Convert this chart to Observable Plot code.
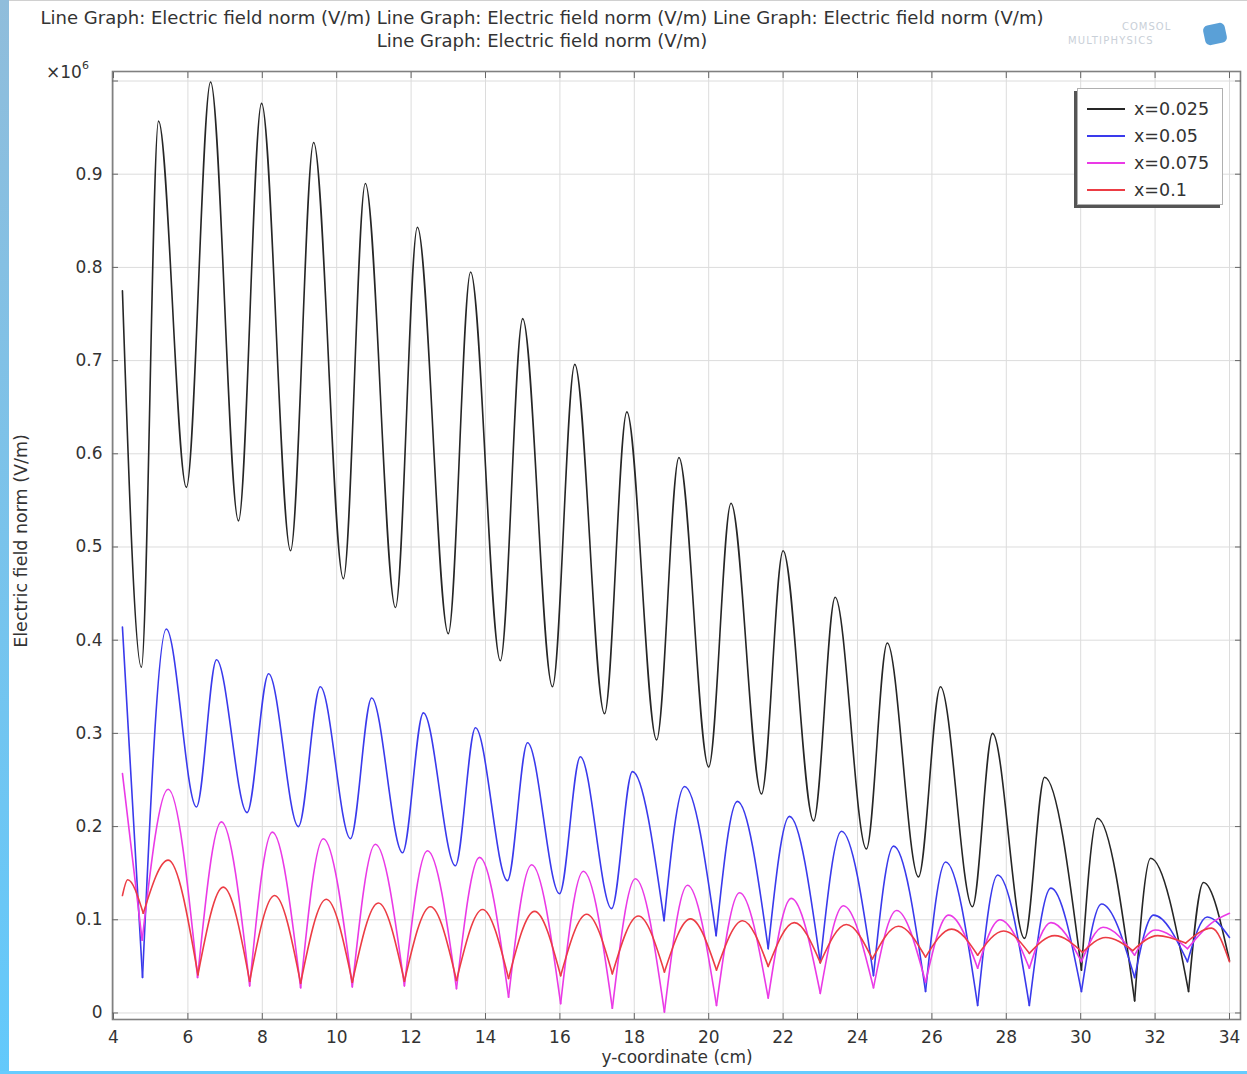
<!DOCTYPE html>
<html><head><meta charset="utf-8">
<script src="https://cdn.jsdelivr.net/npm/d3@7"></script>
<script src="https://cdn.jsdelivr.net/npm/@observablehq/plot@0.6"></script>
<style>
html,body{margin:0;padding:0;background:#fff;}
#wrap{position:relative;width:1247px;height:1074px;overflow:hidden;background:#fff;font-family:"DejaVu Sans",sans-serif;color:#333;}
#chart{position:absolute;left:0;top:0;}
.abs{position:absolute;white-space:pre;}
#title{left:542px;top:6px;transform:translateX(-50%);text-align:center;font-size:18.05px;line-height:23px;color:#333;}
#exp{left:46px;top:61px;font-size:17px;color:#333;}
#exp sup{font-size:11px;position:relative;top:-2px;}
#ylab{left:21px;top:541px;transform:translate(-50%,-50%) rotate(-90deg);font-size:17.5px;}
#xlab{left:677px;top:1057px;transform:translate(-50%,-50%);font-size:17px;}
#legend{left:1077px;top:88px;width:146px;height:117px;box-sizing:border-box;border:1px solid #b0b0b0;background:#fff;box-shadow:-3px 3px 0 #555;}
.lrow{position:absolute;left:0;height:20px;width:140px;}
.lline{position:absolute;left:9px;width:38px;top:9px;height:2px;}
.ltxt{position:absolute;left:56px;top:0px;font-size:17.5px;line-height:20px;}
#lstripe{left:0;top:0;width:9px;height:1074px;background:linear-gradient(#90bddb,#63c9fb);}
#bstripe{left:0;top:1071px;width:1247px;height:3px;background:#66ccff;}
#tline{left:0;top:0;width:1247px;height:1px;background:#d0d0d0;}
#logo1{left:1122px;top:21px;font-size:10px;letter-spacing:1px;color:#c9d0d8;}
#logo2{left:1068px;top:35px;font-size:10px;letter-spacing:1.2px;color:#c9d0d8;}
#logoicon{left:1204px;top:24px;width:22px;height:20px;background:#3d8fd0;border-radius:5px;transform:rotate(-12deg);opacity:0.85;}
</style></head><body>
<div id="wrap">
<div id="chart"></div>
<div class="abs" id="tline"></div>
<div class="abs" id="lstripe"></div>
<div class="abs" id="bstripe"></div>
<div class="abs" id="title"></div>
<div class="abs" id="logo1">COMSOL</div>
<div class="abs" id="logo2">MULTIPHYSICS</div>
<div class="abs" id="logoicon"></div>
<div class="abs" id="exp">×10<sup>6</sup></div>
<div class="abs" id="ylab">Electric field norm (V/m)</div>
<div class="abs" id="xlab">y-coordinate (cm)</div>
<div class="abs" id="legend"></div>
</div>
<script>
// ---------- text ----------
const titleText = "Line Graph: Electric field norm (V/m)";
const titleLines = [[titleText, titleText, titleText], [titleText]];

// ---------- ticks ----------
const xTicks = [4, 6, 8, 10, 12, 14, 16, 18, 20, 22, 24, 26, 28, 30, 32, 34];
const yTicks = [0, 0.1, 0.2, 0.3, 0.4, 0.5, 0.6, 0.7, 0.8, 0.9, 1.0];
const yLabelTicks = [0, 0.1, 0.2, 0.3, 0.4, 0.5, 0.6, 0.7, 0.8, 0.9];

// ---------- series ----------
const seriesNames = ["x=0.025", "x=0.05", "x=0.075", "x=0.1"];
const seriesColors = ["#262626", "#3a3aec", "#ea3ae6", "#ec3c44"];
// minima below this level are drawn as sharp (V-shaped) corners
const seriesSharpBelow = [0.05, 0.1, 1, 1];

// x = 0.025 (black): y-coordinate (cm) and field (x10^6 V/m), extrema
const yCoord025 = [4.24, 4.75, 5.21, 5.96, 6.61, 7.36, 7.98, 8.76, 9.38, 10.18, 10.77, 11.58, 12.17, 13.0, 13.6, 14.4, 15.0, 15.8, 16.4, 17.2, 17.8, 18.6, 19.2, 20.0, 20.6, 21.42, 22.0, 22.82, 23.4, 24.24, 24.8, 25.64, 26.23, 27.09, 27.63, 28.49, 29.03, 30.02, 30.45, 31.45, 31.88, 32.9, 33.3, 34.0];
const field025 = [0.775, 0.371, 0.957, 0.564, 0.999, 0.528, 0.976, 0.496, 0.934, 0.466, 0.890, 0.435, 0.843, 0.407, 0.795, 0.378, 0.745, 0.350, 0.696, 0.321, 0.645, 0.293, 0.596, 0.264, 0.547, 0.235, 0.496, 0.206, 0.446, 0.176, 0.397, 0.146, 0.350, 0.114, 0.300, 0.080, 0.253, 0.046, 0.209, 0.013, 0.166, 0.023, 0.140, 0.056];

// x = 0.05 (blue)
const yCoord05 = [4.24, 4.78, 5.42, 6.23, 6.77, 7.59, 8.17, 8.97, 9.56, 10.37, 10.94, 11.77, 12.33, 13.19, 13.73, 14.59, 15.13, 15.99, 16.55, 17.39, 17.95, 18.8, 19.35, 20.2, 20.77, 21.6, 22.17, 23.0, 23.57, 24.43, 24.97, 25.83, 26.37, 27.23, 27.77, 28.62, 29.2, 30.02, 30.56, 31.45, 31.96, 32.87, 33.4, 34.0];
const field05 = [0.414, 0.038, 0.412, 0.221, 0.379, 0.215, 0.364, 0.200, 0.350, 0.187, 0.338, 0.172, 0.322, 0.158, 0.306, 0.142, 0.290, 0.128, 0.275, 0.112, 0.259, 0.099, 0.243, 0.083, 0.227, 0.069, 0.211, 0.054, 0.195, 0.040, 0.179, 0.023, 0.162, 0.008, 0.148, 0.008, 0.134, 0.023, 0.117, 0.038, 0.105, 0.055, 0.103, 0.081];

// x = 0.075 (magenta)
const yCoord075 = [4.24, 4.77, 5.47, 6.26, 6.9, 7.66, 8.27, 9.03, 9.64, 10.42, 11.04, 11.82, 12.44, 13.22, 13.84, 14.62, 15.24, 16.02, 16.63, 17.41, 18.03, 18.81, 19.43, 20.21, 20.83, 21.6, 22.22, 23.0, 23.62, 24.43, 25.05, 25.83, 26.45, 27.23, 27.83, 28.62, 29.2, 30.02, 30.6, 31.45, 32.0, 32.87, 33.5, 34.0];
const field075 = [0.257, 0.078, 0.240, 0.038, 0.205, 0.029, 0.194, 0.027, 0.187, 0.028, 0.181, 0.029, 0.174, 0.026, 0.167, 0.017, 0.159, 0.010, 0.152, 0.005, 0.144, 0.001, 0.137, 0.008, 0.129, 0.016, 0.123, 0.021, 0.115, 0.027, 0.110, 0.033, 0.105, 0.048, 0.100, 0.048, 0.097, 0.055, 0.092, 0.062, 0.089, 0.069, 0.096, 0.107];

// x = 0.1 (red)
const yCoord1 = [4.24, 4.38, 4.8, 5.47, 6.27, 6.95, 7.66, 8.33, 9.03, 9.72, 10.42, 11.12, 11.82, 12.52, 13.22, 13.92, 14.62, 15.32, 16.02, 16.72, 17.41, 18.11, 18.81, 19.51, 20.21, 20.91, 21.6, 22.3, 23.0, 23.7, 24.4, 25.1, 25.83, 26.53, 27.23, 27.93, 28.62, 29.3, 30.05, 30.67, 31.4, 32.07, 32.82, 33.52, 34.0];
const field1 = [0.126, 0.143, 0.107, 0.164, 0.041, 0.135, 0.034, 0.126, 0.032, 0.122, 0.033, 0.118, 0.034, 0.114, 0.035, 0.111, 0.037, 0.109, 0.040, 0.106, 0.042, 0.104, 0.044, 0.101, 0.046, 0.099, 0.050, 0.097, 0.054, 0.095, 0.058, 0.093, 0.060, 0.090, 0.062, 0.088, 0.064, 0.083, 0.065, 0.081, 0.067, 0.083, 0.075, 0.091, 0.055];

const seriesX = [yCoord025, yCoord05, yCoord075, yCoord1];
const seriesV = [field025, field05, field075, field1];

// split a series into pieces at its sharp minima (shared end points)
function pieces(name, xs, vs, sharpBelow) {
  const rows = [];
  let seg = 0;
  for (let i = 0; i < xs.length; i++) {
    rows.push({name, seg: name + "-" + seg, x: xs[i], v: vs[i]});
    if (i > 0 && i < xs.length - 1) {
      const isMin = vs[i] < vs[i - 1] && vs[i] < vs[i + 1];
      if (isMin && vs[i] < sharpBelow) {
        seg++;
        rows.push({name, seg: name + "-" + seg, x: xs[i], v: vs[i]});
      }
    }
  }
  return rows;
}

const lineMarks = seriesNames.map((n, k) =>
  Plot.line(pieces(n, seriesX[k], seriesV[k], seriesSharpBelow[k]), {
    x: "x", y: "v", z: "seg", stroke: seriesColors[k], strokeWidth: 1.6, curve: "monotone-x"
  })
);

const W = 1247, H = 1074;
const chart = Plot.plot({
  width: W, height: H,
  marginLeft: 112, marginRight: 7, marginTop: 71, marginBottom: H - 1019,
  x: {domain: [3.973, 34.296]},
  y: {domain: [-0.007, 1.0102]},
  style: {fontFamily: "DejaVu Sans, sans-serif", fontSize: "17px", color: "#333", background: "transparent", overflow: "visible"},
  marks: [
    Plot.gridX(xTicks, {stroke: "#dcdcdc", strokeOpacity: 1}),
    Plot.gridY(yTicks, {stroke: "#dcdcdc", strokeOpacity: 1}),
    ...lineMarks,
    Plot.frame({stroke: "#808080", strokeWidth: 1.6}),
    Plot.axisX(xTicks, {anchor: "bottom", tickSize: 0, tickPadding: 11, label: null, tickFormat: d => String(d)}),
    Plot.axisX(xTicks, {anchor: "bottom", tickSize: 6, dy: -6, fill: "none", label: null, stroke: "#666"}),
    Plot.axisX(xTicks, {anchor: "top", tickSize: 6, dy: 6, fill: "none", label: null, stroke: "#666"}),
    Plot.axisY(yLabelTicks, {anchor: "left", tickSize: 0, tickPadding: 10, label: null, tickFormat: d => d === 0 ? "0" : d.toFixed(1)}),
    Plot.axisY(yTicks, {anchor: "left", tickSize: 6, dx: 6, fill: "none", label: null, stroke: "#666"}),
    Plot.axisY(yTicks, {anchor: "right", tickSize: 6, dx: -6, fill: "none", label: null, stroke: "#666"})
  ]
});
document.getElementById("chart").appendChild(chart);

// title
document.getElementById("title").innerHTML = titleLines.map(l => l.join(" ")).join("<br>");

// legend
const leg = document.getElementById("legend");
seriesNames.forEach((n, k) => {
  const row = document.createElement("div");
  row.className = "lrow";
  row.style.top = (10 + k * 27) + "px";
  row.innerHTML = `<div class="lline" style="background:${seriesColors[k]}"></div><div class="ltxt">${n}</div>`;
  leg.appendChild(row);
});
</script>
</body></html>
